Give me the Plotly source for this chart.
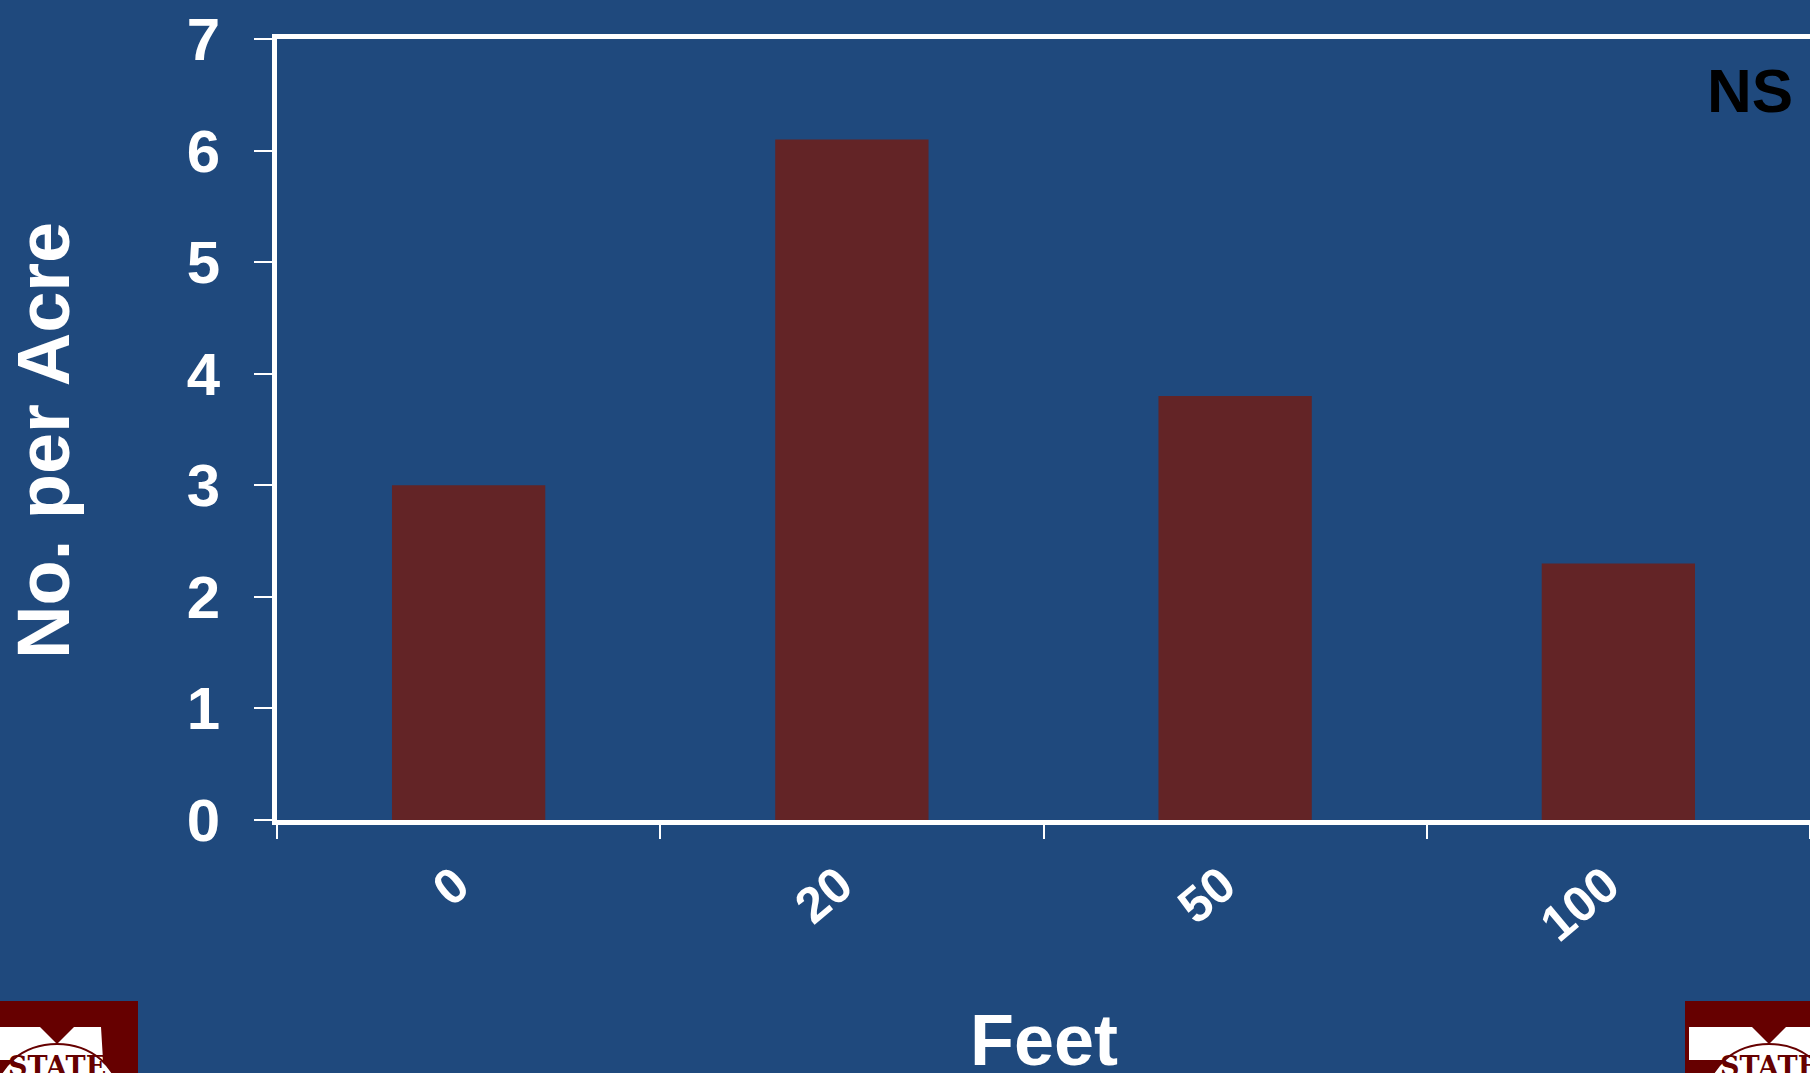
import plotly.graph_objects as go

categories = ["0", "20", "50", "100"]
values = [3.0, 6.1, 3.8, 2.3]
y_ticks = [0, 1, 2, 3, 4, 5, 6, 7]

W, H = 1810, 1073
L, R, T, B = 277, 0, 39, 253
PW, PH = W - L - R, H - T - B

def px(x):
    return (x - L) / PW

def py(y):
    return (H - B - y) / PH

BG = "#1F497D"
BAR = "#632426"
MAROON = "#660000"
FONT = "Liberation Sans, Arial, sans-serif"

fig = go.Figure(go.Bar(x=categories, y=values, width=0.4, marker=dict(color=BAR, line=dict(width=0))))

shapes = []
annotations = []

# logos (bottom corners)
for (x0, x1, cx) in [(0, 138, 57), (1685, 1823, 1769)]:
    shapes.append(dict(type="rect", xref="paper", yref="paper", x0=px(x0), x1=px(x1), y0=py(1001), y1=py(1090),
                       fillcolor=MAROON, line=dict(width=0), layer="above"))
    pts = [(cx - 80, 1027), (cx - 17, 1027), (cx, 1044), (cx + 17, 1027), (cx + 44, 1027),
           (cx + 46, 1060), (cx - 80, 1060)]
    path = "M " + " L ".join(f"{px(a)},{py(b)}" for a, b in pts) + " Z"
    shapes.append(dict(type="path", xref="paper", yref="paper", path=path, fillcolor="white",
                       line=dict(width=0), layer="above"))
    shapes.append(dict(type="circle", xref="paper", yref="paper", x0=px(cx - 62), x1=px(cx + 62),
                       y0=py(1044), y1=py(1150), fillcolor="white", line=dict(color=MAROON, width=2), layer="above"))
    annotations.append(dict(text="<b>STATE</b>", xref="paper", yref="paper", x=px(cx), y=py(1066),
                            xanchor="center", yanchor="middle", showarrow=False,
                            font=dict(family="DejaVu Serif, serif", size=27, color=MAROON)))

# rotated category labels (x given as category index)
for i, c in enumerate(categories):
    annotations.append(dict(text=c, xref="x", yref="paper", x=i, y=py(853), xanchor="right", yanchor="top",
                            xshift=14, showarrow=False, textangle=-40,
                            font=dict(family=FONT, size=50, color="white", weight="bold")))

annotations.append(dict(text="NS", xref="paper", yref="paper", x=px(1795), y=py(90), xanchor="right",
                        yanchor="middle", showarrow=False,
                        font=dict(family=FONT, size=62, color="black", weight="bold")))
annotations.append(dict(text="Feet", xref="paper", yref="paper", x=px(1044), y=py(1040), xanchor="center",
                        yanchor="middle", showarrow=False,
                        font=dict(family=FONT, size=72, color="white", weight="bold")))
annotations.append(dict(text="No. per Acre", xref="paper", yref="paper", x=px(44), y=py(441), xanchor="center",
                        yanchor="middle", showarrow=False, textangle=-90,
                        font=dict(family=FONT, size=74, color="white", weight="bold")))

fig.update_layout(
    width=W, height=H,
    margin=dict(l=L, r=R, t=T, b=B),
    paper_bgcolor=BG, plot_bgcolor=BG,
    showlegend=False,
    shapes=shapes,
    annotations=annotations,
    bargap=0.6,
)
fig.update_xaxes(
    type="category", range=[-0.5, len(categories) - 0.5], showgrid=False,
    showline=True, linecolor="white", linewidth=5, mirror=True,
    ticks="outside", tickson="boundaries", ticklen=14, tickwidth=2, tickcolor="white",
    showticklabels=False,
)
fig.update_yaxes(
    range=[0, 7], tickvals=y_ticks, showgrid=False, zeroline=False,
    showline=True, linecolor="white", linewidth=5,
    ticks="outside", ticklen=18, tickwidth=2, tickcolor="white", ticklabelstandoff=22,
    tickfont=dict(family=FONT, size=60, color="white", weight="bold"),
)

fig.write_html("out.html")
